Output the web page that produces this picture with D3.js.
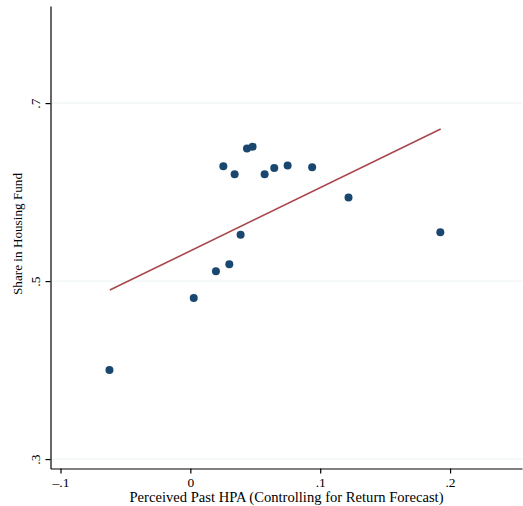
<!DOCTYPE html>
<html>
<head>
<meta charset="utf-8">
<script src="https://cdn.jsdelivr.net/npm/d3@7"></script>
<style>
  body { margin: 0; background: #fff; }
  svg { display: block; font-family: "Liberation Serif", "Times New Roman", serif; }
</style>
</head>
<body>
<svg id="chart" width="523" height="506"></svg>
<script>
// binned scatter: perceived past HPA vs share in housing fund
var pastHPA = [-0.0623, 0.0026, 0.0197, 0.0300, 0.0254, 0.0341, 0.0387, 0.0436, 0.0479, 0.0572, 0.0646, 0.0749, 0.0938, 0.1218, 0.1925];
var housingShare = [0.400, 0.481, 0.511, 0.519, 0.629, 0.620, 0.552, 0.649, 0.651, 0.620, 0.627, 0.630, 0.628, 0.594, 0.555];

// fitted line endpoints
var fitX = [-0.0620, 0.1928];
var fitY = [0.4899, 0.6708];

var xTicks = [-0.1, 0, 0.1, 0.2];
var xTickLabels = ["\u2013.1", "0", ".1", ".2"];
var yTicks = [0.3, 0.5, 0.7];
var yTickLabels = [".3", ".5", ".7"];

var xTitle = "Perceived Past HPA (Controlling for Return Forecast)";
var yTitle = "Share in Housing Fund";

var svg = d3.select("#chart");

var plotLeft = 50.5, plotRight = 522, plotTop = 6, plotBottom = 468.5;

var x = d3.scaleLinear().domain([-0.1077, 0.2554]).range([plotLeft, plotRight]);
var y = d3.scaleLinear().domain([0.2894, 0.8091]).range([plotBottom, plotTop]);

// light gridlines
svg.append("g").selectAll("line")
    .data(yTicks)
    .join("line")
    .attr("x1", plotLeft).attr("x2", plotRight)
    .attr("y1", d => y(d)).attr("y2", d => y(d))
    .attr("stroke", "#eaf2f3")
    .attr("stroke-width", 1);

// fitted line
svg.append("path")
    .datum(d3.zip(fitX, fitY))
    .attr("d", d3.line().x(d => x(d[0])).y(d => y(d[1])))
    .attr("fill", "none")
    .attr("stroke", "#a8484c")
    .attr("stroke-width", 1.6);

// points
svg.append("g").selectAll("circle")
    .data(d3.zip(pastHPA, housingShare))
    .join("circle")
    .attr("cx", d => x(d[0]))
    .attr("cy", d => y(d[1]))
    .attr("r", 4)
    .attr("fill", "#1a476f");

// x axis
var xAxis = d3.axisBottom(x)
    .tickValues(xTicks)
    .tickFormat((d, i) => xTickLabels[i])
    .tickSize(5)
    .tickSizeOuter(0);
var gx = svg.append("g")
    .attr("transform", "translate(0," + plotBottom + ")")
    .call(xAxis)
    .attr("font-size", 13.5)
    .attr("font-family", "'Liberation Serif', serif");
gx.select(".domain").attr("stroke", "#000").attr("stroke-width", 1.2);
gx.selectAll(".tick line").attr("stroke", "#000").attr("stroke-width", 1.2);
gx.selectAll(".tick text")
    .attr("y", 18.5)
    .attr("dy", null)
    .attr("fill", "#000");

// y axis
var yAxis = d3.axisLeft(y)
    .tickValues(yTicks)
    .tickFormat((d, i) => yTickLabels[i])
    .tickSize(5)
    .tickSizeOuter(0);
var gy = svg.append("g")
    .attr("transform", "translate(" + plotLeft + ",0)")
    .call(yAxis)
    .attr("font-size", 13.5)
    .attr("font-family", "'Liberation Serif', serif");
gy.select(".domain").attr("stroke", "#000").attr("stroke-width", 1.2);
gy.selectAll(".tick line").attr("stroke", "#000").attr("stroke-width", 1.2);
gy.selectAll(".tick text")
    .attr("x", null).attr("dy", null)
    .attr("text-anchor", "middle")
    .attr("transform", "translate(-11,0) rotate(-90)")
    .attr("fill", "#000");

// axis titles
svg.append("text")
    .attr("x", 286.5)
    .attr("y", 502)
    .attr("text-anchor", "middle")
    .style("font-size", "14.6px")
    .text(xTitle);

svg.append("text")
    .attr("transform", "translate(22,234) rotate(-90)")
    .attr("text-anchor", "middle")
    .style("font-size", "13.2px")
    .text(yTitle);
</script>
</body>
</html>
